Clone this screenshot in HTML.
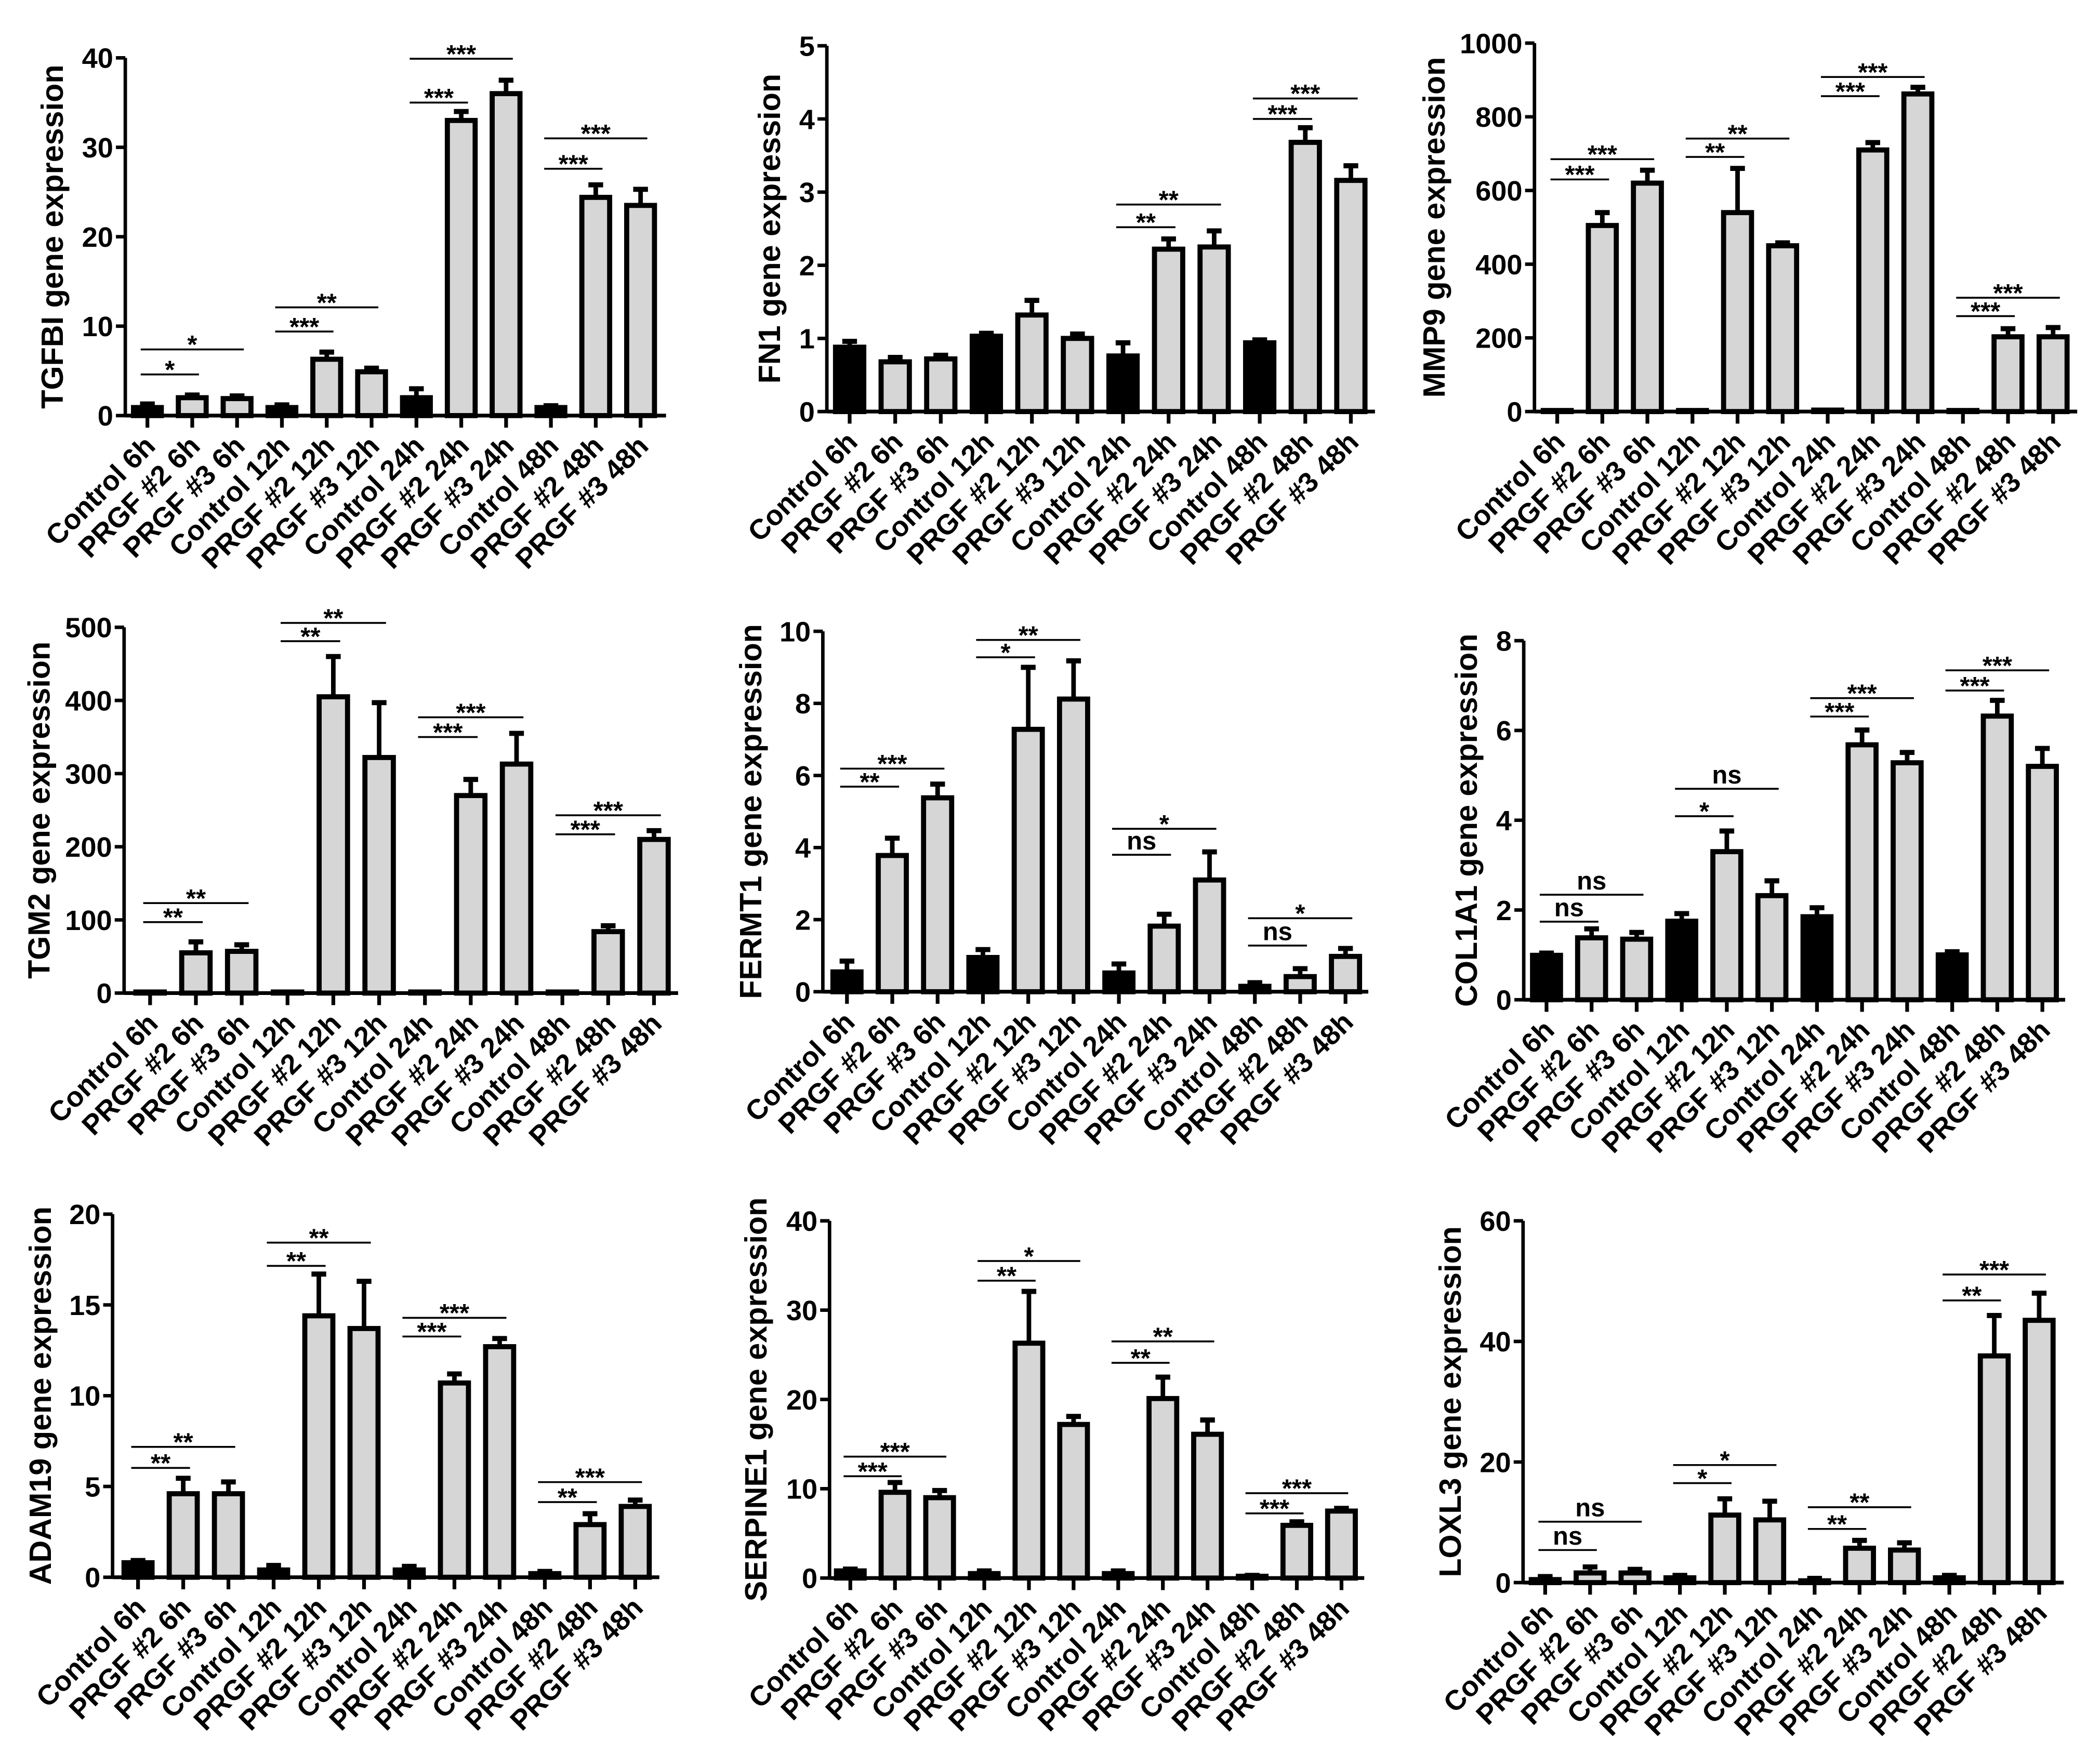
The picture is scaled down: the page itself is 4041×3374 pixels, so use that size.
<!DOCTYPE html>
<html><head><meta charset="utf-8"><style>
html,body{margin:0;padding:0;background:#fff;}
svg{display:block;}
text{font-family:"Liberation Sans",Arial,sans-serif;font-weight:bold;fill:#000;}
</style></head>
<body>
<svg id="fig" width="4041" height="3374" viewBox="0 0 1567 1308" xmlns="http://www.w3.org/2000/svg"></svg>
<script>
const categories = ["Control 6h","PRGF #2 6h","PRGF #3 6h","Control 12h","PRGF #2 12h","PRGF #3 12h","Control 24h","PRGF #2 24h","PRGF #3 24h","Control 48h","PRGF #2 48h","PRGF #3 48h"];
const isControl = [1,0,0,1,0,0,1,0,0,1,0,0];

const tgfbiValues = [0.9,2.0,1.9,0.9,6.3,4.9,2.0,33,36,0.9,24.4,23.5];
const tgfbiErrors = [0.4,0.3,0.3,0.3,0.8,0.4,1.0,1.0,1.5,0.2,1.4,1.8];
const tgfbiTicks = [0,10,20,30,40];
const tgfbiSig = [[0,1,4.6,"*"],[0,2,7.4,"*"],[3,4,9.4,"***"],[3,5,12.1,"**"],[6,7,35,"***"],[6,8,39.9,"***"],[9,10,27.6,"***"],[9,11,31,"***"]];

const fn1Values = [0.88,0.68,0.72,1.03,1.32,1.0,0.76,2.22,2.25,0.94,3.68,3.16];
const fn1Errors = [0.08,0.06,0.05,0.04,0.2,0.06,0.18,0.14,0.22,0.04,0.2,0.2];
const fn1Ticks = [0,1,2,3,4,5];
const fn1Sig = [[6,7,2.52,"**"],[6,8,2.83,"**"],[9,10,4.0,"***"],[9,11,4.28,"***"]];

const mmp9Values = [2,505,620,2,540,450,4,710,862,2,203,203];
const mmp9Errors = [0,35,35,0,120,8,0,20,18,0,22,25];
const mmp9Ticks = [0,200,400,600,800,1000];
const mmp9Sig = [[0,1,630,"***"],[0,2,685,"***"],[3,4,691,"**"],[3,5,741,"**"],[6,7,856,"***"],[6,8,908,"***"],[9,10,259,"***"],[9,11,309,"***"]];

const tgm2Values = [1,55,57,1,405,322,1,270,313,1,84,210];
const tgm2Errors = [0,15,9,0,55,75,0,22,42,0,8,12];
const tgm2Ticks = [0,100,200,300,400,500];
const tgm2Sig = [[0,1,97,"**"],[0,2,123,"**"],[3,4,481,"**"],[3,5,506,"**"],[6,7,350,"***"],[6,8,377,"***"],[9,10,217,"***"],[9,11,243,"***"]];

const fermt1Values = [0.55,3.78,5.38,0.95,7.28,8.12,0.52,1.82,3.1,0.15,0.42,0.98];
const fermt1Errors = [0.3,0.48,0.38,0.22,1.72,1.06,0.25,0.33,0.78,0.1,0.22,0.22];
const fermt1Ticks = [0,2,4,6,8,10];
const fermt1Sig = [[0,1,5.69,"**"],[0,2,6.19,"***"],[3,4,9.28,"*"],[3,5,9.76,"**"],[6,7,3.8,"ns"],[6,8,4.52,"*"],[9,10,1.28,"ns"],[9,11,2.04,"*"]];

const col1a1Values = [0.99,1.38,1.35,1.75,3.3,2.32,1.85,5.68,5.28,1.0,6.32,5.2];
const col1a1Errors = [0.05,0.2,0.15,0.17,0.46,0.33,0.2,0.33,0.23,0.07,0.35,0.4];
const col1a1Ticks = [0,2,4,6,8];
const col1a1Sig = [[0,1,1.74,"ns"],[0,2,2.34,"ns"],[3,4,4.09,"*"],[3,5,4.7,"ns"],[6,7,6.31,"***"],[6,8,6.72,"***"],[9,10,6.89,"***"],[9,11,7.34,"***"]];

const adam19Values = [0.8,4.6,4.6,0.4,14.4,13.7,0.4,10.7,12.7,0.2,2.9,3.9];
const adam19Errors = [0.12,0.85,0.65,0.25,2.3,2.6,0.2,0.5,0.45,0.12,0.6,0.35];
const adam19Ticks = [0,5,10,15,20];
const adam19Sig = [[0,1,6.02,"**"],[0,2,7.18,"**"],[3,4,17.15,"**"],[3,5,18.43,"**"],[6,7,13.26,"***"],[6,8,14.29,"***"],[9,10,4.14,"**"],[9,11,5.24,"***"]];

const serpine1Values = [0.8,9.6,9.0,0.5,26.3,17.2,0.5,20.1,16.1,0.2,5.9,7.5];
const serpine1Errors = [0.2,1.1,0.8,0.3,5.8,0.9,0.3,2.4,1.6,0.1,0.4,0.3];
const serpine1Ticks = [0,10,20,30,40];
const serpine1Sig = [[0,1,11.4,"***"],[0,2,13.6,"***"],[3,4,33.3,"**"],[3,5,35.5,"*"],[6,7,24.1,"**"],[6,8,26.5,"**"],[9,10,7.24,"***"],[9,11,9.5,"***"]];

const loxl3Values = [0.5,1.6,1.6,0.8,11.2,10.4,0.3,5.7,5.4,0.8,37.6,43.5];
const loxl3Errors = [0.5,1.0,0.6,0.4,2.7,3.1,0.4,1.3,1.2,0.4,6.7,4.5];
const loxl3Ticks = [0,20,40,60];
const loxl3Sig = [[0,1,5.4,"ns"],[0,2,10.1,"ns"],[3,4,16.5,"*"],[3,5,19.5,"*"],[6,7,8.9,"**"],[6,8,12.5,"**"],[9,10,46.8,"**"],[9,11,51.1,"***"]];

const panels = [
 {id:"tgfbi",title:"TGFBI gene expression",v:tgfbiValues,e:tgfbiErrors,t:tgfbiTicks,s:tgfbiSig,ax:93.5,y0:310,y1:43,b0:110,b1:478,end:497,tx:39},
 {id:"fn1",title:"FN1 gene expression",v:fn1Values,e:fn1Errors,t:fn1Ticks,s:fn1Sig,ax:617,y0:307,y1:34,b0:634,b1:1008,end:1026,tx:574},
 {id:"mmp9",title:"MMP9 gene expression",v:mmp9Values,e:mmp9Errors,t:mmp9Ticks,s:mmp9Sig,ax:1145,y0:307,y1:32,b0:1162,b1:1532,end:1550,tx:1070},
 {id:"tgm2",title:"TGM2 gene  expression",v:tgm2Values,e:tgm2Errors,t:tgm2Ticks,s:tgm2Sig,ax:92.6,y0:741,y1:468,b0:112,b1:488,end:506,tx:29},
 {id:"fermt1",title:"FERMT1 gene expression",v:fermt1Values,e:fermt1Errors,t:fermt1Ticks,s:fermt1Sig,ax:614,y0:740,y1:471,b0:632,b1:1004,end:1021,tx:560},
 {id:"col1a1",title:"COL1A1 gene expression",v:col1a1Values,e:col1a1Errors,t:col1a1Ticks,s:col1a1Sig,ax:1137,y0:746,y1:478,b0:1154,b1:1524,end:1541,tx:1094},
 {id:"adam19",title:"ADAM19 gene expression",v:adam19Values,e:adam19Errors,t:adam19Ticks,s:adam19Sig,ax:84,y0:1177,y1:906,b0:103,b1:474,end:492,tx:30},
 {id:"serpine1",title:"SERPINE1 gene  expression",v:serpine1Values,e:serpine1Errors,t:serpine1Ticks,s:serpine1Sig,ax:619,y0:1177.6,y1:911,b0:634.5,b1:1001,end:1018,tx:564},
 {id:"loxl3",title:"LOXL3 gene expression",v:loxl3Values,e:loxl3Errors,t:loxl3Ticks,s:loxl3Sig,ax:1136.5,y0:1181,y1:911,b0:1153,b1:1521.6,end:1540,tx:1082}
];

const NS="http://www.w3.org/2000/svg";
const svg=document.getElementById('fig');
function mk(tag,parent,attrs){const el=document.createElementNS(NS,tag);for(const k in attrs)el.setAttribute(k,attrs[k]);parent.appendChild(el);return el;}

panels.forEach(p=>{
  const g=mk('g',svg,{});
  
  
  const maxT=p.t[p.t.length-1];
  const yS=v=>p.y0-(v/maxT)*(p.y0-p.y1);
  const step=(p.b1-p.b0)/(categories.length-1);
  const xS=i=>p.b0+i*step;
  const bw=step*0.62;
  const ya=mk('line',g,{x1:p.ax,y1:p.y1,x2:p.ax,y2:p.y0,stroke:'#000','stroke-width':2.6});
  
  
  p.t.forEach(tv=>{
    const y=yS(tv);
    mk('line',g,{x1:p.ax-7,y1:y,x2:p.ax,y2:y,stroke:'#000','stroke-width':2.6});
    const tl=mk('text',g,{x:p.ax-9,y:y+7.5,'text-anchor':'end','font-size':21});
    tl.textContent=tv;
    
    
  });
  const ttl=mk('text',g,{x:0,y:0,'text-anchor':'middle','font-size':23,transform:`translate(${p.tx+8},${(p.y0+p.y1)/2}) rotate(-90)`,'xml:space':'preserve'});
  ttl.textContent=p.title;
  
  
  p.v.forEach((v,i)=>{
    const x=xS(i), y=yS(v), er=p.e[i];
    if(er>0){
      const ey=yS(v+er);
      mk('line',g,{x1:x,y1:y,x2:x,y2:ey,stroke:'#000','stroke-width':3.4});
      mk('line',g,{x1:x-5.5,y1:ey,x2:x+5.5,y2:ey,stroke:'#000','stroke-width':3.8});
    }
    const h=Math.max(p.y0-y,0.8);
    const r=mk('rect',g,{x:x-bw/2,y:p.y0-h,width:bw,height:h,fill:isControl[i]?'#000':'#d6d6d6',stroke:'#000','stroke-width':3.8});
    
    
    mk('line',g,{x1:x,y1:p.y0,x2:x,y2:p.y0+9,stroke:'#000','stroke-width':2.8});
    const cl=mk('text',g,{x:0,y:0,'text-anchor':'end','font-size':21,transform:`translate(${x+7},${p.y0+24}) rotate(-45)`});
    cl.textContent=categories[i];
    
    
  });
  const xa=mk('line',g,{x1:p.ax,y1:p.y0,x2:p.end,y2:p.y0,stroke:'#000','stroke-width':2.8});
  
  
  p.s.forEach(s=>{
    const xa1=xS(s[0])-step*0.15, xa2=xS(s[1])+step*0.15, y=yS(s[2]);
    const ln=mk('line',g,{x1:xa1,y1:y,x2:xa2,y2:y,stroke:'#000','stroke-width':1.4});
    
    
    const isNs=s[3]==='ns';
    const st=mk('text',g,{x:(xa1+xa2)/2,y:isNs?y-4:y+3,'text-anchor':'middle','font-size':isNs?19:19});
    st.textContent=s[3];
    
    
  });
});
</script>
</body></html>
